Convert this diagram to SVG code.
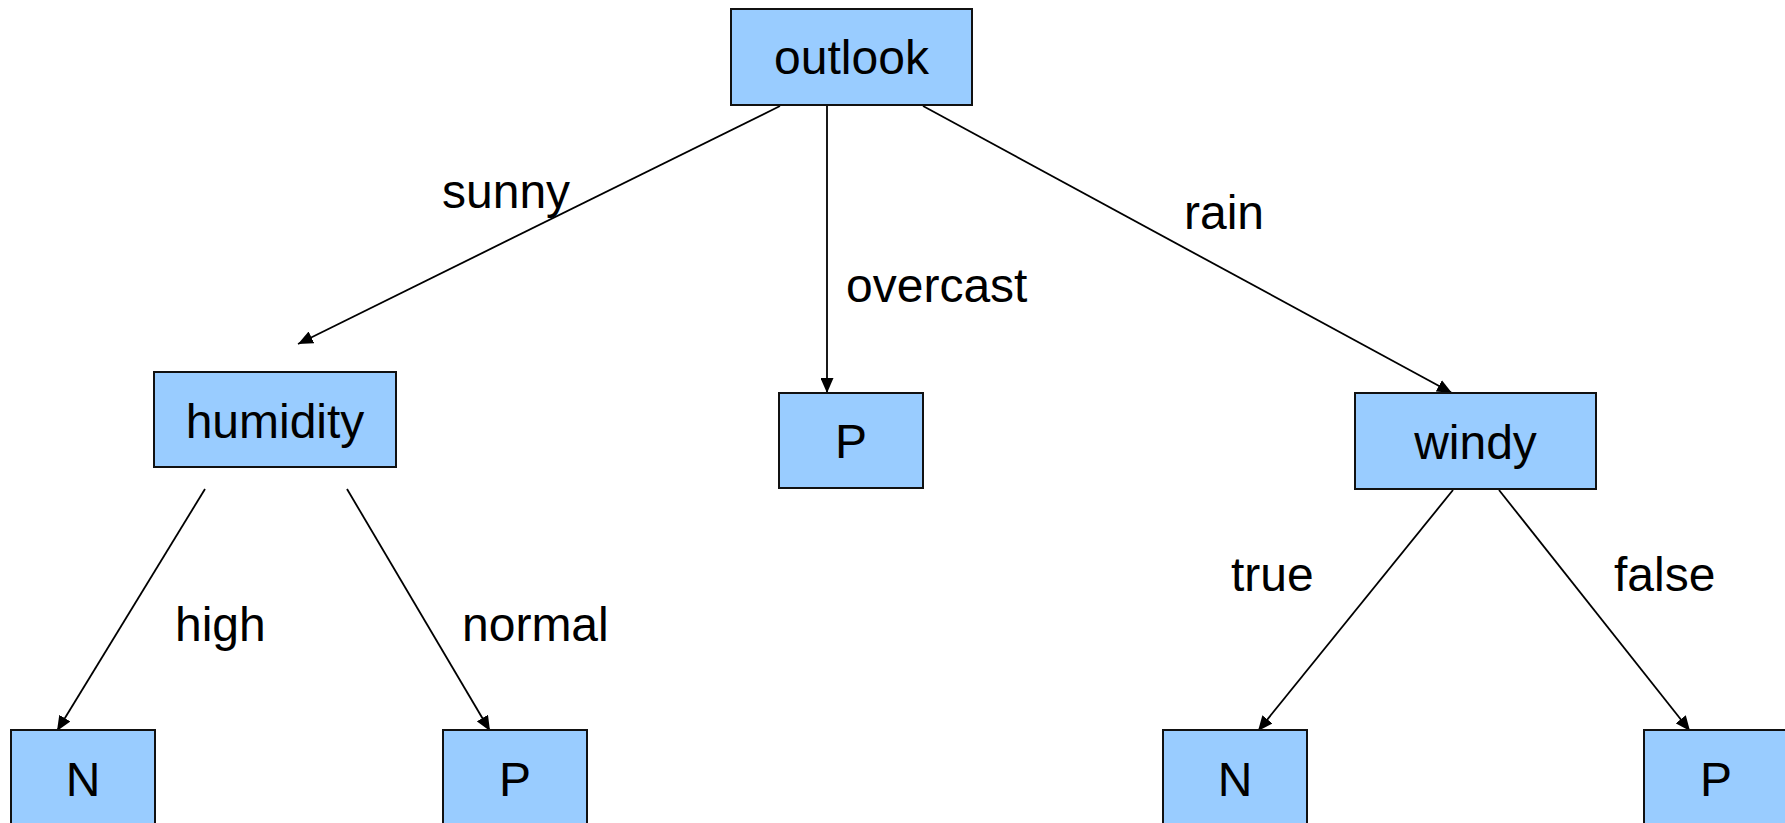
<svg xmlns="http://www.w3.org/2000/svg" width="1785" height="823" viewBox="0 0 1785 823">
<style>
.box{fill:#99ccff;stroke:#111;stroke-width:2}
.nt{font-family:"Liberation Sans",Arial,sans-serif;font-size:48px;fill:#000;text-anchor:middle}
.lbl{font-family:"Liberation Sans",Arial,sans-serif;font-size:48px;fill:#000}
.edge{stroke:#000;stroke-width:1.8;fill:none;marker-end:url(#arr)}
</style>
<defs>
<marker id="arr" markerUnits="userSpaceOnUse" markerWidth="16" markerHeight="13" refX="15" refY="6.5" orient="auto">
<path d="M0,0 L15,6.5 L0,13 z" fill="#000"/>
</marker>
</defs>
<rect width="1785" height="823" fill="#fff"/>
<g id="connectors">
<line class="edge" x1="780" y1="106" x2="298" y2="344"/>
<line class="edge" x1="827" y1="106" x2="827" y2="393"/>
<line class="edge" x1="923" y1="106" x2="1452" y2="393"/>
<line class="edge" x1="205" y1="489" x2="57" y2="731"/>
<line class="edge" x1="347" y1="489" x2="490" y2="731"/>
<line class="edge" x1="1453" y1="490" x2="1258" y2="731"/>
<line class="edge" x1="1499" y1="490" x2="1690" y2="731"/>
<text class="lbl" x="442" y="208">sunny</text>
<text class="lbl" x="846" y="302">overcast</text>
<text class="lbl" x="1184" y="229">rain</text>
<text class="lbl" x="175" y="641">high</text>
<text class="lbl" x="462" y="641">normal</text>
<text class="lbl" x="1231" y="591">true</text>
<text class="lbl" x="1614" y="591">false</text>
</g>
<g id="outlook"><rect class="box" x="731" y="9" width="241" height="96"/><text class="nt" x="851.5" y="74">outlook</text></g>
<g id="humidity"><rect class="box" x="154" y="372" width="242" height="95"/><text class="nt" x="275" y="438">humidity</text></g>
<g id="p-overcast"><rect class="box" x="779" y="393" width="144" height="95"/><text class="nt" x="851" y="458">P</text></g>
<g id="windy"><rect class="box" x="1355" y="393" width="241" height="96"/><text class="nt" x="1475.5" y="459">windy</text></g>
<g id="n-high"><rect class="box" x="11" y="730" width="144" height="96"/><text class="nt" x="83" y="796">N</text></g>
<g id="p-normal"><rect class="box" x="443" y="730" width="144" height="96"/><text class="nt" x="515" y="796">P</text></g>
<g id="n-true"><rect class="box" x="1163" y="730" width="144" height="96"/><text class="nt" x="1235" y="796">N</text></g>
<g id="p-false"><rect class="box" x="1644" y="730" width="144" height="96"/><text class="nt" x="1716" y="796">P</text></g>
</svg>
